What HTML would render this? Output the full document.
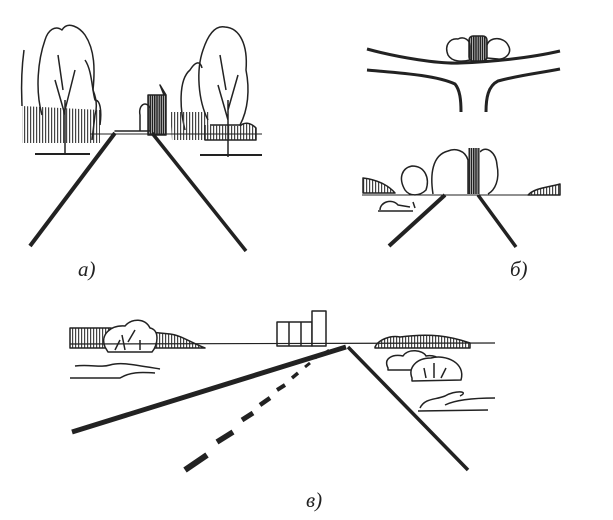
<!DOCTYPE html>
<html><head><meta charset="utf-8"><style>
html,body{margin:0;padding:0;background:#fff;width:613px;height:520px;overflow:hidden}
svg{display:block}
text{font-family:"Liberation Serif",serif;font-style:italic;font-size:21px;fill:#222}
</style></head><body>
<svg width="613" height="520" viewBox="0 0 613 520" xmlns="http://www.w3.org/2000/svg">
<defs>
<pattern id="h" width="3" height="10" patternUnits="userSpaceOnUse"><rect width="1.2" height="10" fill="#444"/></pattern>
<pattern id="hd" width="2.2" height="10" patternUnits="userSpaceOnUse"><rect width="1.6" height="10" fill="#222"/></pattern>
</defs>
<g fill="none" stroke="#222" stroke-width="1.5" stroke-linejoin="round">
<!-- panel a -->
<path d="M22,106 L22,143 L100,143 L100,110 Z" fill="url(#h)" stroke="none"/>
<path d="M24,50 C20,80 22,100 22,106"/>
<path d="M42,115 C35,90 38,60 45,40 C48,30 55,25 62,30 C68,20 80,28 85,35 C95,50 95,70 93,90 C95,95 98,105 95,115 L92,140"/>
<path d="M85,60 C92,70 92,90 95,100 C100,100 102,110 100,125"/>
<path d="M65,155 L65,100 M65,115 L55,80 M65,110 L75,70 M63,90 L58,55"/>
<path d="M35,154 L90,154" stroke-width="2"/>
<path d="M115,131 L140,131 L140,115 C138,105 146,100 150,108 L150,131 Z" fill="none"/>
<rect x="148" y="95" width="18" height="40" fill="url(#hd)" stroke="#222"/>
<path d="M164,95 L160,85 L166,95" fill="#222"/>
<path d="M185,130 C180,110 178,80 190,70 C195,62 200,60 202,68"/>
<path d="M170,112 L172,140 L210,140 L210,112 Z" fill="url(#h)" stroke="none"/>
<path d="M208,120 C198,100 196,70 203,50 C208,35 215,25 225,27 C240,28 248,45 246,70 C250,90 248,110 240,125 L210,125"/>
<path d="M205,125 L205,140 L256,140 L256,128 C250,122 244,122 240,126" fill="url(#h)"/>
<path d="M228,157 L228,100 M228,120 L218,85 M228,110 L238,75 M226,90 L220,55"/>
<path d="M200,155 L262,155" stroke-width="2"/>
<path d="M90,134 L262,134" stroke-width="1"/>
<path d="M30,246 L115,133" stroke-width="4"/>
<path d="M246,251 L152,133" stroke-width="3.5"/>
<!-- panel b top -->
<path d="M367,49 C400,58 440,64 460,63 C490,62 530,58 560,51" stroke-width="3"/>
<path d="M367,70 C400,73 435,75 455,84 C460,90 461,100 461,112" stroke-width="3"/>
<path d="M486,112 C486,98 488,86 498,81 C520,75 540,73 560,69" stroke-width="3"/>
<path d="M448,55 C444,45 450,38 458,39 C464,36 470,40 470,46 L470,60 C462,62 452,62 448,55 Z"/>
<rect x="469" y="36" width="18" height="25" fill="url(#hd)" stroke="#222" rx="4"/>
<path d="M487,45 C490,36 504,37 508,45 C513,53 505,60 498,59 L487,58"/>
<!-- panel b bottom -->
<path d="M363,178 L363,193 L395,193 C390,187 380,180 363,178 Z" fill="url(#h)"/>
<path d="M405,190 C398,178 402,168 412,166 C425,166 430,178 426,190 C420,196 410,197 405,190 Z"/>
<path d="M433,194 C430,175 432,155 448,151 C455,148 465,150 468,160 L468,194"/>
<rect x="468" y="148" width="12" height="46" fill="url(#hd)" stroke="none"/>
<path d="M480,152 C486,145 496,152 497,165 C500,180 495,190 488,194"/>
<path d="M380,210 C380,202 392,198 398,205 L410,207 M378,211 L413,211 M413,202 L415,208"/>
<path d="M362,195 L560,195" stroke-width="1"/>
<path d="M528,195 C535,188 545,188 560,184 L560,195 Z" fill="url(#h)"/>
<path d="M389,246 L445,195" stroke-width="4"/>
<path d="M516,247 L478,195" stroke-width="3.5"/>
<!-- panel v -->
<path d="M70,328 L70,348 L205,348 C190,342 180,335 170,334 L110,328 Z" fill="url(#h)"/>
<path d="M105,347 C100,335 110,325 125,326 C132,318 145,318 150,328 C160,330 158,345 152,352 L108,352 Z" fill="#fff"/>
<path d="M115,350 L120,340 M125,350 L122,335 M128,342 L135,330 M140,350 L140,340"/>
<path d="M75,366 C90,364 100,368 110,365 C120,362 130,364 160,369 M70,378 L120,378 C130,372 140,372 155,373"/>
<rect x="277" y="322" width="35" height="24" fill="#fff"/>
<path d="M289,322 L289,346 M301,322 L301,346"/>
<rect x="312" y="311" width="14" height="35" fill="#fff"/>
<path d="M375,347 C378,340 390,335 400,337 C430,333 450,336 470,343 L470,348 L375,348 Z" fill="url(#h)"/>
<path d="M70,344 L495,343" stroke-width="1.2"/>
<path d="M388,368 C383,358 393,354 403,356 C408,348 423,350 426,356 C438,354 446,363 443,370 L388,370 Z" fill="#fff"/>
<path d="M412,378 C408,368 416,358 431,358 C446,354 466,363 461,380 L412,381 Z" fill="#fff"/>
<path d="M426,378 L424,368 M434,378 L434,363 M441,378 L446,368"/>
<path d="M420,408 C425,398 435,400 445,396 C455,390 470,391 460,396 M418,411 L488,410 M445,405 C455,400 475,398 495,398"/>
<path d="M72,432 L346,347" stroke-width="5"/>
<path d="M348,347 L468,470" stroke-width="3.5"/>
<path d="M185,470 L207,455" stroke-width="6"/>
<path d="M217,442 L233,432" stroke-width="5.5"/>
<path d="M242,420 L253,413" stroke-width="5"/>
<path d="M260,405 L270,398" stroke-width="4.5"/>
<path d="M277,390 L285,385" stroke-width="4"/>
<path d="M292,378 L298,373" stroke-width="3.5"/>
<path d="M305,367 L310,363" stroke-width="3"/>
<path d="M315,358 L319,355" stroke-width="3"/>
<path d="M326,352 L329,350" stroke-width="2.5"/>
</g>
<text x="78" y="276">а)</text>
<text x="510" y="276">б)</text>
<text x="306" y="507">в)</text>
</svg>
</body></html>
